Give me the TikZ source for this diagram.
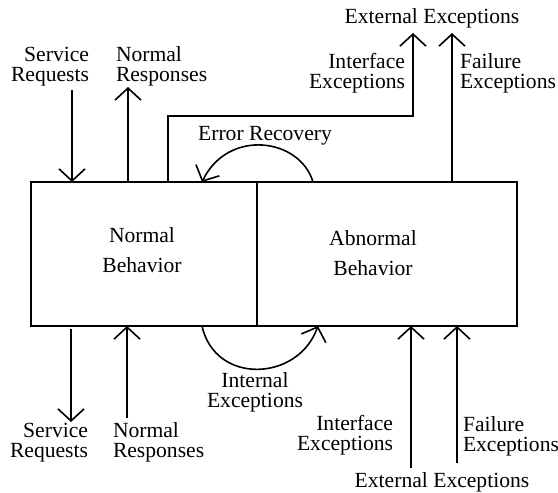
\documentclass[tikz,border=0pt]{standalone}
\usepackage{fontspec}
\setmainfont{Liberation Serif}
\usetikzlibrary{arrows.meta}
\begin{document}
\begin{tikzpicture}[x=1pt,y=-1pt,
  line width=1.6pt,
  >={Straight Barb[length=12pt,width=26pt,line width=1.6pt]},
  every node/.style={inner sep=0pt, outer sep=0pt},
  lbl/.style={font=\fontsize{21.6}{19.5}\selectfont},
  boxlbl/.style={align=center, font=\fontsize{21.6}{30}\selectfont},
  behaviourbox/.style={draw, rectangle, line width=1.6pt, minimum height=144pt}]
  \useasboundingbox (0,0) rectangle (558,493);

  % the two behaviour boxes
  \node[behaviourbox, minimum width=226pt] (nb) at (144,254) {};
  \node[behaviourbox, minimum width=260pt, anchor=west] (ab) at (nb.east) {};
  \node[boxlbl, anchor=base] (nbt) at (142,272) {Normal\\Behavior};
  \node[boxlbl, anchor=base] (abt) at (373,275) {Abnormal\\Behavior};

  % free ends of the connectors
  \coordinate (srT) at (72,90);
  \coordinate (nrT) at (128,87);
  \coordinate (ieCorner1) at (168,116);
  \coordinate (ieCorner2) at (413,116);
  \coordinate (ieT) at (413,33);
  \coordinate (feT) at (452,33);
  \coordinate (srB) at (71,422);
  \coordinate (nrB) at (127,418);
  \coordinate (ieB) at (411,468);
  \coordinate (feB) at (457,463);

  % top connectors
  \draw[->] (srT) -- (srT |- nb.north);
  \draw[->] (nrT |- nb.north) -- (nrT);
  \draw[->] (ieCorner1 |- nb.north) -- (ieCorner1) -- (ieCorner2) -- (ieT);
  \draw[->] (feT |- ab.north) -- (feT);

  % recovery loop above, internal loop below
  \draw[->] (313,0 |- ab.north) .. controls (300,138) and (228,128) .. (202,0 |- nb.north);
  \draw[->] (202,0 |- nb.south) .. controls (215,385) and (298,382) .. (318,0 |- ab.south);

  % bottom connectors
  \draw[->] (srB |- 0,329) -- (srB);
  \draw[->] (nrB) -- (nrB |- nb.south);
  \draw[->] (ieB) -- (ieB |- ab.south);
  \draw[->] (feB) -- (feB |- ab.south);

  % labels, top (anchored at the baseline of the last line)
  \node[lbl, anchor=base east, align=right] (l1) at (89,81) {Service\\Requests};
  \node[lbl, anchor=base west, align=left] (l2) at (116,81) {Normal\\Responses};
  \node[lbl, anchor=base] (l3) at (432,23) {External Exceptions};
  \node[lbl, anchor=base east, align=right] (l4) at (405,88) {Interface\\Exceptions};
  \node[lbl, anchor=base west, align=left] (l5) at (460,88) {Failure\\Exceptions};
  \node[lbl, anchor=base] (l6) at (265,140) {Error Recovery};

  % labels, bottom
  \node[lbl, anchor=base, align=center] (l7) at (255,407) {Internal\\Exceptions};
  \node[lbl, anchor=base east, align=right] (l8) at (88,457) {Service\\Requests};
  \node[lbl, anchor=base west, align=left] (l9) at (113,457) {Normal\\Responses};
  \node[lbl, anchor=base east, align=right] (l10) at (393,450) {Interface\\Exceptions};
  \node[lbl, anchor=base west, align=left] (l11) at (463,451) {Failure\\Exceptions};
  \node[lbl, anchor=base] (l12) at (442,487) {External Exceptions};
\end{tikzpicture}
\end{document}
